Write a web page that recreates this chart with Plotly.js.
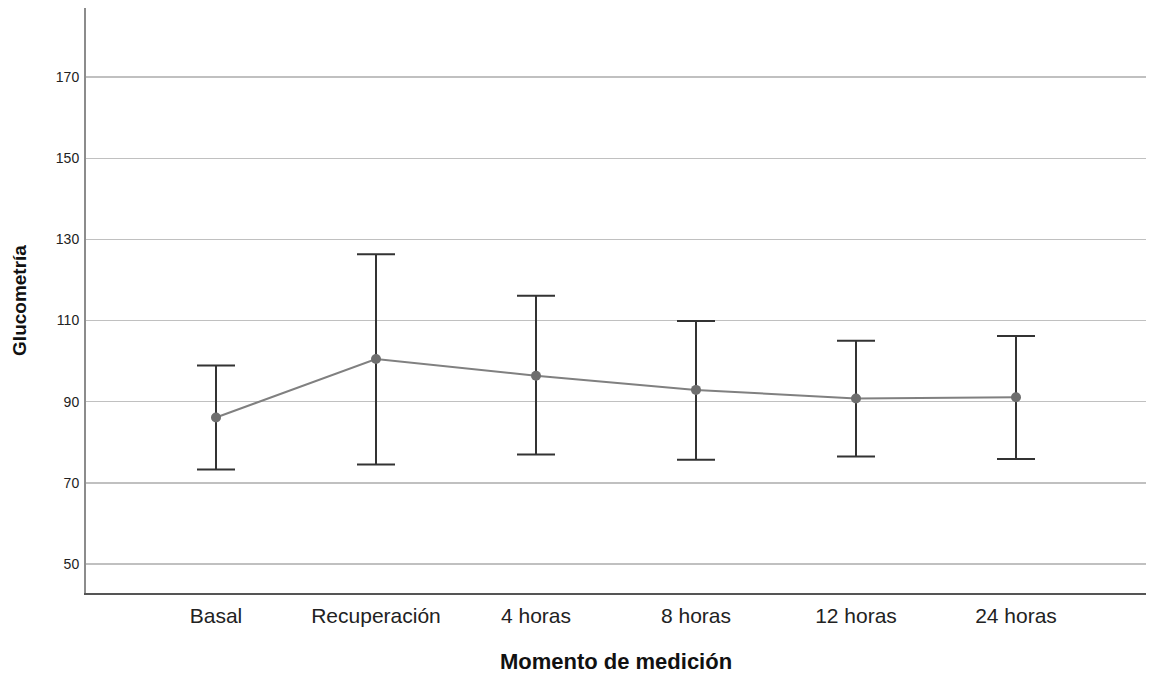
<!DOCTYPE html>
<html>
<head>
<meta charset="utf-8">
<script src="https://cdn.plot.ly/plotly-3.0.1.min.js"></script>
<style>html,body{margin:0;padding:0;background:#fff;}#chart{width:1150px;height:674px;}</style>
</head>
<body>
<div id="chart"></div>
<script>
var categories = ["Basal", "Recuperación", "4 horas", "8 horas", "12 horas", "24 horas"];
var means = [86.1, 100.5, 96.4, 92.9, 90.8, 91.1];
var upper = [98.9, 126.3, 116.1, 109.9, 105.0, 106.2];
var lower = [73.3, 74.5, 77.0, 75.7, 76.5, 75.9];
var yTicks = [50, 70, 90, 110, 130, 150, 170];

var errPlus = upper.map(function (u, i) { return u - means[i]; });
var errMinus = lower.map(function (l, i) { return means[i] - l; });

var trace = {
  type: "scatter",
  mode: "lines+markers",
  x: categories,
  y: means,
  line: { color: "#808080", width: 2 },
  marker: { color: "#6e6e6e", size: 10 },
  error_y: {
    type: "data",
    symmetric: false,
    array: errPlus,
    arrayminus: errMinus,
    color: "#333333",
    thickness: 2,
    width: 19
  },
  hoverinfo: "x+y"
};

var layout = {
  width: 1150,
  height: 674,
  margin: { l: 86, r: 4, t: 8, b: 81 },
  paper_bgcolor: "#ffffff",
  plot_bgcolor: "#ffffff",
  showlegend: false,
  font: { family: "Liberation Sans, Arial, sans-serif", color: "#222222" },
  xaxis: {
    type: "category",
    range: [-0.8125, 5.8125],
    showgrid: false,
    zeroline: false,
    showline: true,
    linecolor: "#555555",
    linewidth: 1.5,
    ticks: "",
    ticklabelstandoff: 3,
    tickfont: { size: 21, color: "#222222", family: "Liberation Sans, Arial, sans-serif" },
    title: {
      text: "Momento de medición",
      font: { size: 22, color: "#111111", family: "Liberation Sans, Arial, sans-serif", weight: "bold" },
      standoff: 29
    }
  },
  yaxis: {
    range: [42.86, 187],
    tickvals: yTicks,
    ticktext: yTicks.map(String),
    showgrid: true,
    gridcolor: "#c0c0c0",
    gridwidth: 1.3,
    zeroline: false,
    showline: true,
    linecolor: "#8c8c8c",
    linewidth: 2,
    ticks: "",
    ticklabelstandoff: 2,
    tickfont: { size: 14, color: "#222222", family: "Liberation Sans, Arial, sans-serif" },
    title: {
      text: "Glucometría",
      font: { size: 19, color: "#111111", family: "Liberation Sans, Arial, sans-serif", weight: "bold" },
      standoff: 24
    }
  }
};

Plotly.newPlot("chart", [trace], layout, { displayModeBar: false, staticPlot: true });
</script>
</body>
</html>
